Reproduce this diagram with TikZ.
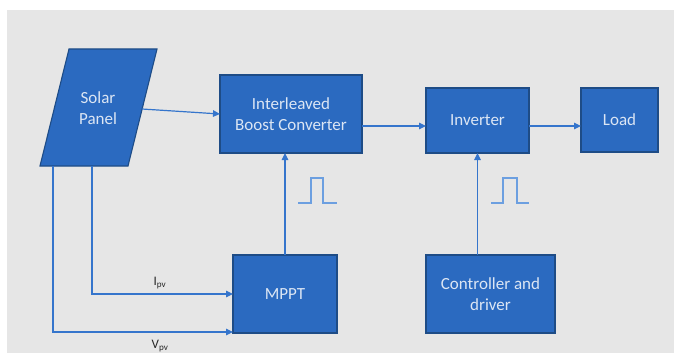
\documentclass[tikz,border=0pt]{standalone}
\usepackage{fontspec}
\setmainfont{Carlito}
\usetikzlibrary{arrows.meta}
\definecolor{bgray}{HTML}{E6E6E6}
\definecolor{boxfill}{HTML}{2B6AC0}
\definecolor{boxline}{HTML}{1E4C86}
\definecolor{boxtext}{HTML}{DCE6F4}
\definecolor{wire}{HTML}{3575CC}
\definecolor{pulse}{HTML}{6C9FE0}
\begin{document}
\begin{tikzpicture}[x=1pt,y=-1pt,
  box/.style={draw=boxline,fill=boxfill,line width=1.1pt,text=boxtext,
    font=\fontsize{17}{21}\selectfont,align=center,inner sep=0pt,outer sep=0pt},
  arr/.style={draw=wire,line width=1.2pt,-{Triangle[length=7pt,width=6.5pt]}},
  pulsel/.style={draw=pulse,line width=1.1pt},
  lbl/.style={text=black!85,font=\fontsize{13}{15}\selectfont,inner sep=0pt}]
\useasboundingbox (0,0) rectangle (674,353);
\fill[white] (0,0) rectangle (674,353);
\fill[bgray] (7,10) rectangle (674,353);
% solar panel
\draw[draw=boxline,fill=boxfill,line width=1.1pt] (40,166) -- (69,49) -- (157,49) -- (128,166) -- cycle;
\node[text=boxtext,font=\fontsize{17}{21}\selectfont,align=center] (panel) at (98,108) {Solar\\Panel};
\coordinate (pout) at (142,109);
\coordinate (pi) at (92,166);
\coordinate (pv) at (53,166);
% boxes
\node[box,minimum width=142pt,minimum height=78pt] (ibc) at (291,114) {Interleaved\\Boost Converter};
\node[box,minimum width=103pt,minimum height=65pt] (inv) at (477.5,120.5) {Inverter};
\node[box,minimum width=77pt,minimum height=64pt] (load) at (619.5,120) {Load};
\node[box,minimum width=104pt,minimum height=78pt] (mppt) at (285,294) {MPPT};
\node[box,minimum width=129pt,minimum height=78pt] (ctrl) at (490.5,294) {Controller and\\driver};
% connectors
\coordinate (r1) at (0,126);
\coordinate (r2) at (0,332);
\draw[arr] (pout) -- (ibc.west);
\draw[arr] (ibc.east |- r1) -- (inv.west |- r1);
\draw[arr] (inv.east |- r1) -- (load.west |- r1);
\draw[arr] (mppt.north) -- (ibc.south -| mppt.north);
\draw[arr] (ctrl.north -| inv.south) -- (inv.south);
\draw[arr] (pi) -- (pi |- mppt.west) -- (mppt.west);
\draw[arr] (pv) -- (pv |- r2) -- (mppt.west |- r2);
% labels
\node[lbl] (ipv) at (160,283) {I\textsubscript{pv}};
\node[lbl] (vpv) at (160,346) {V\textsubscript{pv}};
% pulses
\draw[pulsel] (298,203) -- (311,203) -- (311,178) -- (323,178) -- (323,203) -- (337,203);
\draw[pulsel] (491,203) -- (503,203) -- (503,178) -- (517,178) -- (517,203) -- (529,203);
\end{tikzpicture}
\end{document}
